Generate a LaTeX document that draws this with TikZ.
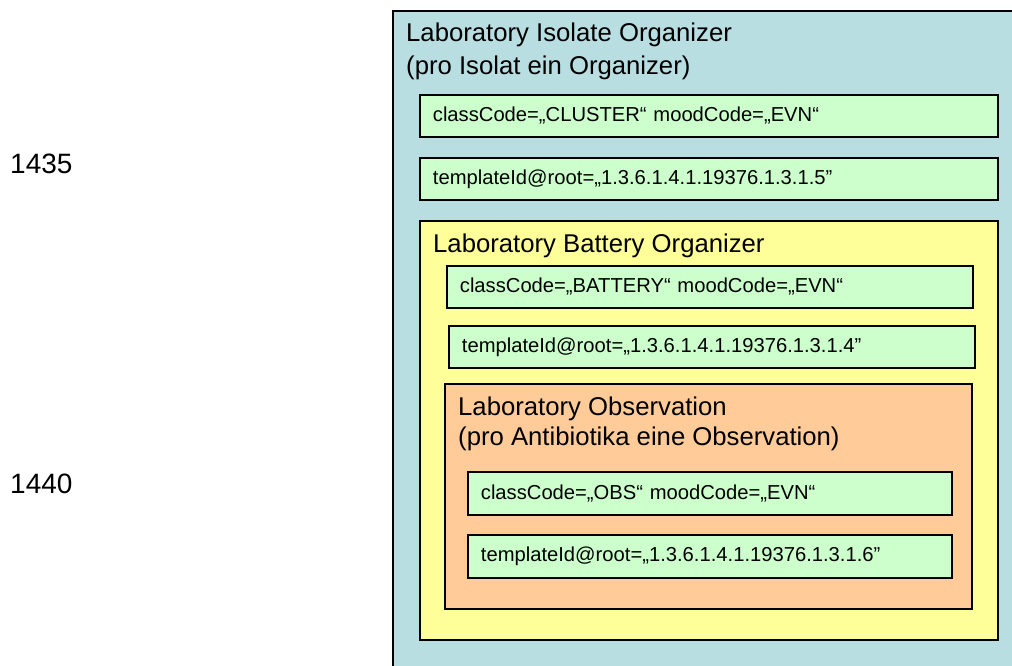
\documentclass[tikz,border=0pt]{standalone}
\usepackage{fontspec}
\setmainfont{Liberation Sans}
\usetikzlibrary{shadows}

\definecolor{isoblue}{RGB}{184,222,226}
\definecolor{attrgreen}{RGB}{204,255,204}
\definecolor{battyellow}{RGB}{255,255,153}
\definecolor{obsorange}{RGB}{255,204,153}

\tikzset{
  frame/.style={draw=black, line width=1.8pt, anchor=north west, inner sep=0pt,
    drop shadow={shadow xshift=1.2pt, shadow yshift=-1.2pt, opacity=.45}},
  attrbox/.style={frame, fill=attrgreen, inner xsep=13pt, inner ysep=0pt,
    minimum height=42pt, align=left, font=\fontsize{20.2}{24}\selectfont},
  titletext/.style={anchor=base west, inner sep=0pt, font=\fontsize{25.7}{30}\selectfont},
  linenum/.style={anchor=west, inner sep=0pt, font=\fontsize{28}{32}\selectfont}
}

\begin{document}
\begin{tikzpicture}[x=1pt,y=-1pt]
\useasboundingbox (0,0) rectangle (1012,666);
\clip (0,0) rectangle (1012,666);

% line numbers
\node[linenum] (num1435) at (10,164) {1435};
\node[linenum] (num1440) at (10,484) {1440};

% isolate organizer
\node[frame, fill=isoblue, minimum width=660pt, minimum height=700pt] (iso) at (392,10) {};
\node[titletext] (isoTitle) at (406,42) {Laboratory Isolate Organizer};
\node[titletext] (isoSub) at (406,75) {(pro Isolat ein Organizer)};
\node[attrbox, minimum width=578pt, text width=552pt] (isoClass) at (419,94) {classCode=„CLUSTER“ moodCode=„EVN“};
\node[attrbox, minimum width=578pt, text width=552pt] (isoTmpl) at (419,157) {templateId@root=„1.3.6.1.4.1.19376.1.3.1.5”};

% battery organizer
\node[frame, fill=battyellow, minimum width=578pt, minimum height=419pt] (batt) at (419,220) {};
\node[titletext] (battTitle) at (433,252) {Laboratory Battery Organizer};
\node[attrbox, minimum width=526pt, text width=500pt] (battClass) at (446,265) {classCode=„BATTERY“ moodCode=„EVN“};
\node[attrbox, minimum width=526pt, text width=500pt] (battTmpl) at (448,325) {templateId@root=„1.3.6.1.4.1.19376.1.3.1.4”};

% observation
\node[frame, fill=obsorange, minimum width=527pt, minimum height=225pt] (obs) at (444,383) {};
\node[titletext] (obsTitle) at (458,415) {Laboratory Observation};
\node[titletext] (obsSub) at (458,445) {(pro Antibiotika eine Observation)};
\node[attrbox, minimum width=484pt, text width=458pt, minimum height=43pt] (obsClass) at (467,471) {classCode=„OBS“ moodCode=„EVN“};
\node[attrbox, minimum width=484pt, text width=458pt, minimum height=43pt] (obsTmpl) at (467,534) {templateId@root=„1.3.6.1.4.1.19376.1.3.1.6”};
\end{tikzpicture}
\end{document}
